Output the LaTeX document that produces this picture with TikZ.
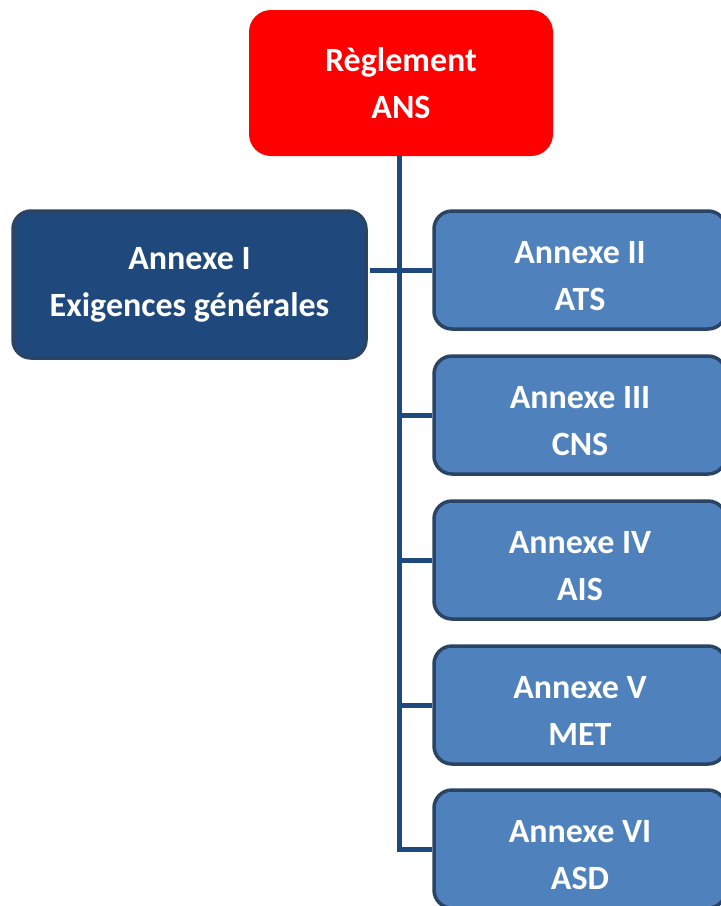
\documentclass[tikz,border=0pt]{standalone}
\usepackage{fontspec}
\setmainfont{Carlito}
\usepackage{tikz}

\definecolor{ansred}{HTML}{FF0000}
\definecolor{darkannex}{HTML}{1F497D}
\definecolor{lightannex}{HTML}{4F81BD}
\definecolor{annexborder}{HTML}{2A4466}
\definecolor{treeline}{HTML}{1F497D}

\begin{document}
\begin{tikzpicture}[x=1pt, y=-1pt,
    box/.style={rounded corners=18pt, align=center, text=white, inner sep=0pt,
      font=\fontsize{34}{47}\selectfont\bfseries},
    annex/.style={box, fill=lightannex, draw=annexborder, line width=3.5pt,
      minimum width=292pt, minimum height=118pt, text height=80pt, text depth=0pt},
    branch/.style={treeline, line width=5pt}]
  \useasboundingbox (0,0) rectangle (721,906);

  % Nodes
  \node[box, fill=ansred, rounded corners=22pt, minimum width=304pt, minimum height=146pt] (reg) at (401, 83) {Règlement\\ANS};
  \node[box, fill=darkannex, draw=annexborder, line width=3.5pt, minimum width=353pt, minimum height=147pt] (a1) at (189.5, 284.5) {Annexe I\\Exigences générales};
  \node[annex] (a2) at (580, 270) {Annexe II\\ATS};
  \node[annex] (a3) at (580, 415) {Annexe III\\CNS};
  \node[annex] (a4) at (580, 560) {Annexe IV\\AIS};
  \node[annex] (a5) at (580, 705) {Annexe V\\MET};
  \node[annex] (a6) at (580, 849) {Annexe VI\\ASD};

  % Lines
  \coordinate (trunk) at ([xshift=-2pt]reg.south);
  \coordinate (corner) at (trunk |- a6.west);
  \draw[branch] (trunk) -- (corner) -- (a6.west);
  \draw[branch] ([xshift=2pt]a1.east |- a2.west) -- (a2.west);
  \draw[branch] (trunk |- a3.west) -- (a3.west);
  \draw[branch] (trunk |- a4.west) -- (a4.west);
  \draw[branch] (trunk |- a5.west) -- (a5.west);
\end{tikzpicture}
\end{document}
